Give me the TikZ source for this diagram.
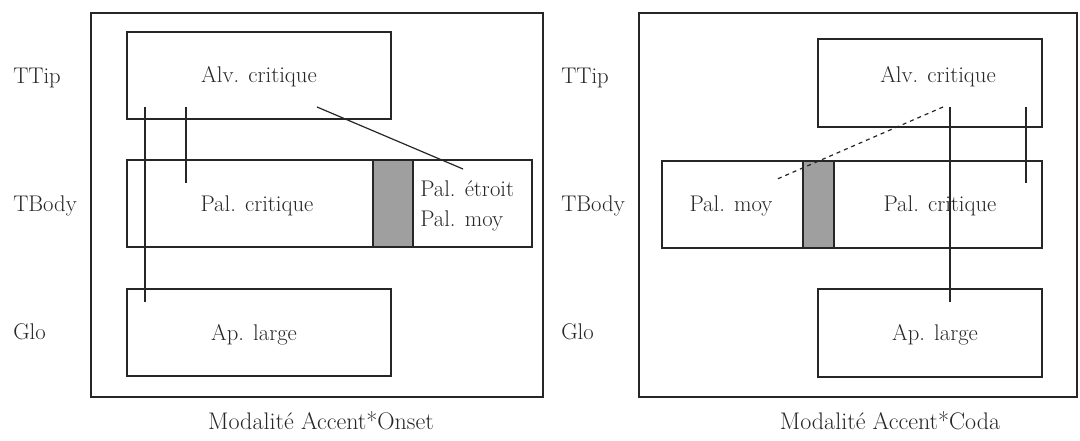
\documentclass[tikz,border=0pt]{standalone}
\usepackage{fontspec}
\begin{document}
\begin{tikzpicture}[x=0.75pt,y=-0.75pt,
  box/.style={draw=black!85, line width=0.9pt, inner sep=0pt, minimum height=65.25pt},
  greybar/.style={draw=black!85, line width=0.9pt, fill=gray!75, inner sep=0pt, minimum height=65.25pt},
  lbl/.style={font=\fontsize{17}{20}\selectfont, inner sep=0pt, text=black!85},
  captxt/.style={font=\fontsize{18}{21}\selectfont, inner sep=0pt, text=black!85, anchor=base},
  conn/.style={draw=black!85, line width=0.9pt},
  dconn/.style={draw=black!85, line width=0.9pt, dashed}]
\useasboundingbox (0,0) rectangle (1080,441);
% ---------- left panel ----------
\node[box, minimum width=339pt, minimum height=288pt] (outerL) at (317,205) {};
\node[box, minimum width=198pt] (alvL) at (259,75.5) {};
\node[box, minimum width=303.75pt] (palL) at (329.5,203.5) {};
\node[greybar, minimum width=30pt] (greyL) at (393,203.5) {};
\node[box, minimum width=198pt] (apL) at (259,332.5) {};
\node[lbl, anchor=base] (talvL) at (259,83) {Alv. critique};
\node[lbl, anchor=base] (tpalL) at (257,212) {Pal. critique};
\node[lbl, anchor=base west] (tetrL) at (420,197) {Pal. étroit};
\node[lbl, anchor=base west] (tmoyL) at (420,227) {Pal. moy};
\node[lbl, anchor=base] (tapL) at (254,340) {Ap. large};
\node[lbl, anchor=base west] (ttipL) at (13,84) {TTip};
\node[lbl, anchor=base west] (tbodyL) at (13,212) {TBody};
\node[lbl, anchor=base west] (gloL) at (13,339) {Glo};
\node[captxt] (capL) at (321,429) {Modalité Accent*Onset};
\coordinate (l1a) at (145,107);
\coordinate (l1b) at (145,302);
\coordinate (l2a) at (186,107);
\coordinate (l2b) at (186,183);
\coordinate (l3a) at (317,107);
\coordinate (l3b) at (463,169);
\draw[conn] (l1a) -- (l1b);
\draw[conn] (l2a) -- (l2b);
\draw[conn] (l3a) -- (l3b);
% ---------- right panel ----------
\node[box, minimum width=328.5pt, minimum height=288pt] (outerR) at (858,205) {};
\node[box, minimum width=168pt, minimum height=66pt] (alvR) at (930,83) {};
\node[box, minimum width=285pt] (palR) at (852,204.5) {};
\node[greybar, minimum width=23.25pt] (greyR) at (818.5,204.5) {};
\node[box, minimum width=168pt, minimum height=66pt] (apR) at (930,333) {};
\node[lbl, anchor=base] (talvR) at (938,83) {Alv. critique};
\node[lbl, anchor=base] (tmoyR) at (731,212) {Pal. moy};
\node[lbl, anchor=base] (tpalR) at (940,212) {Pal. critique};
\node[lbl, anchor=base] (tapR) at (935,340) {Ap. large};
\node[lbl, anchor=base west] (ttipR) at (561,84) {TTip};
\node[lbl, anchor=base west] (tbodyR) at (561,212) {TBody};
\node[lbl, anchor=base west] (gloR) at (561,339) {Glo};
\node[captxt] (capR) at (890,429) {Modalité Accent*Coda};
\coordinate (r1a) at (950,107);
\coordinate (r1b) at (950,302);
\coordinate (r2a) at (1026,107);
\coordinate (r2b) at (1026,183);
\coordinate (r3a) at (943,107);
\coordinate (r3b) at (775,180);
\draw[conn] (r1a) -- (r1b);
\draw[conn] (r2a) -- (r2b);
\draw[dconn] (r3a) -- (r3b);
\end{tikzpicture}
\end{document}
